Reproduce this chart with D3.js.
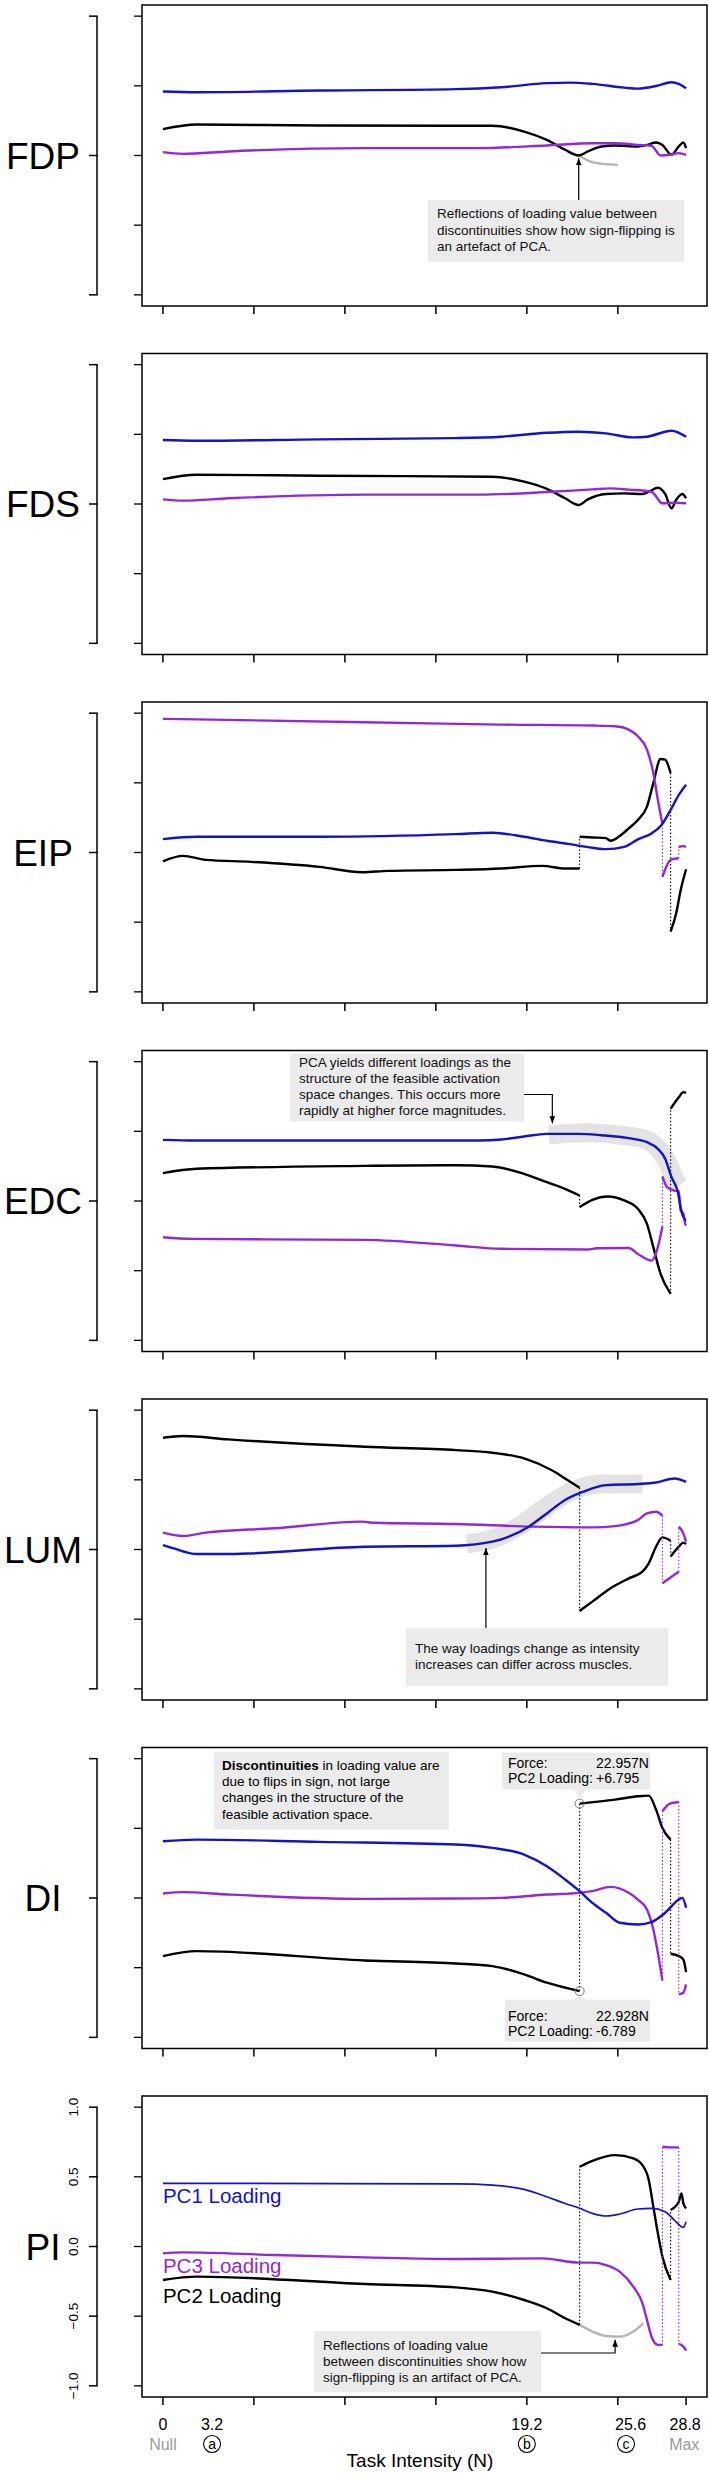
<!DOCTYPE html>
<html>
<head>
<meta charset="utf-8">
<script src="https://cdn.jsdelivr.net/npm/d3@7"></script>
<style>
body { margin: 0; background: #fff; }
svg { display: block; font-family: "Liberation Sans", Arial, sans-serif; }
</style>
</head>
<body>
<svg></svg>
<script>
// x values are positions along the intensity axis (one unit = one tick), y values are loadings

var muscles = ["FDP", "FDS", "EIP", "EDC", "LUM", "DI", "PI"];

// each series = list of continuous segments of [position, loading]
var fdpBlue = [[[0,0.459],[0.37,0.454],[1.72,0.466],[3.22,0.476],[3.72,0.49],[4.22,0.519],[4.47,0.523],[4.72,0.514],[5.07,0.487],[5.22,0.48],[5.42,0.499],[5.59,0.526],[5.67,0.514],[5.75,0.483]]];
var fdpBlack = [[[0,0.189],[0.37,0.222],[1.72,0.215],[3.62,0.213],[3.97,0.172],[4.22,0.112],[4.42,0.041],[4.57,0],[4.67,0.029],[4.82,0.065],[4.97,0.072],[5.22,0.065],[5.32,0.076],[5.42,0.093],[5.49,0.076],[5.59,0.005],[5.67,0.065],[5.72,0.093],[5.75,0.053]]];
var fdpPurple = [[[0,0.024],[0.22,0.012],[0.72,0.029],[2.22,0.053],[3.47,0.053],[4.22,0.072],[4.72,0.088],[4.97,0.088],[5.22,0.076],[5.37,0.069],[5.47,0],[5.57,0.005],[5.67,0.017],[5.75,0.005]]];
var fdpGrey = [[4.57,0],[4.72,-0.048],[4.87,-0.062],[5.0,-0.067]];

var fdsBlue = [[[0,0.459],[0.37,0.454],[1.72,0.464],[3.22,0.473],[3.72,0.483],[4.22,0.511],[4.57,0.519],[4.87,0.507],[5.17,0.478],[5.32,0.483],[5.59,0.526],[5.75,0.483]]];
var fdsBlack = [[[0,0.179],[0.37,0.21],[1.72,0.203],[3.62,0.196],[3.97,0.16],[4.22,0.108],[4.42,0.041],[4.57,-0.007],[4.67,0.033],[4.87,0.072],[5.07,0.076],[5.27,0.072],[5.34,0.088],[5.44,0.117],[5.52,0.072],[5.59,-0.031],[5.64,0.029],[5.71,0.072],[5.75,0.041]]];
var fdsPurple = [[[0,0.033],[0.22,0.024],[0.72,0.041],[2.22,0.067],[3.47,0.067],[4.22,0.086],[4.72,0.105],[4.92,0.112],[5.12,0.103],[5.37,0.088],[5.49,0.005],[5.62,0.01],[5.75,0.005]]];

var eipBlue = [[[0,0.096],[0.37,0.113],[1.72,0.113],[3.22,0.132],[3.62,0.142],[3.97,0.113],[4.22,0.084],[4.47,0.06],[4.72,0.034],[4.87,0.024],[5.07,0.041],[5.22,0.094],[5.37,0.137],[5.48,0.197],[5.57,0.293],[5.67,0.413],[5.75,0.486]]];
var eipBlack = [
  [[0,-0.063],[0.22,-0.024],[0.47,-0.053],[0.97,-0.067],[1.72,-0.103],[2.19,-0.142],[2.47,-0.132],[3.22,-0.125],[3.72,-0.115],[4.17,-0.096],[4.42,-0.115],[4.58,-0.115]],
  [[4.58,0.113],[4.72,0.108],[4.87,0.103],[4.92,0.084],[5.02,0.118],[5.12,0.173],[5.22,0.233],[5.32,0.329],[5.39,0.498],[5.47,0.671],[5.52,0.666],[5.58,0.57]],
  [[5.58,-0.567],[5.64,-0.44],[5.69,-0.272],[5.75,-0.12]]
];
var eipPurple = [
  [[0,0.959],[2.22,0.935],[3.72,0.918],[4.72,0.911],[4.97,0.906],[5.12,0.882],[5.22,0.834],[5.32,0.738],[5.39,0.57],[5.44,0.377],[5.49,0.204]],
  [[5.49,-0.175],[5.54,-0.091],[5.59,-0.05],[5.67,-0.041]],
  [[5.67,0.041],[5.72,0.046],[5.75,0.041]]
];

var edcBlue = [[[0,0.439],[0.37,0.434],[3.47,0.434],[3.72,0.441],[3.97,0.463],[4.22,0.482],[4.57,0.482],[4.82,0.472],[5.12,0.451],[5.32,0.422],[5.44,0.374],[5.52,0.303],[5.59,0.171],[5.66,0.063],[5.69,-0.044],[5.72,-0.116],[5.75,-0.14]]];
var edcBlack = [
  [[0,0.2],[0.37,0.231],[2.22,0.252],[3.22,0.257],[3.62,0.248],[3.97,0.195],[4.22,0.135],[4.42,0.087],[4.58,0.039]],
  [[4.58,-0.044],[4.72,0.008],[4.89,0.032],[5.07,0.004],[5.22,-0.056],[5.32,-0.164],[5.39,-0.331],[5.47,-0.523],[5.58,-0.666]],
  [[5.58,0.662],[5.67,0.745],[5.72,0.781],[5.75,0.776]]
];
var edcPurple = [
  [[0,-0.26],[0.32,-0.272],[2.22,-0.279],[3.22,-0.319],[3.72,-0.343],[4.67,-0.348],[4.77,-0.339],[5.12,-0.337],[5.22,-0.38],[5.37,-0.428],[5.44,-0.331],[5.49,-0.183]],
  [[5.49,0.176],[5.54,0.099],[5.62,0.075],[5.67,0.071],[5.69,-0.068],[5.72,-0.092],[5.74,-0.164],[5.75,-0.176]]
];
var edcBand = [[4.24,0.475],[4.65,0.49],[5.03,0.472],[5.31,0.44],[5.45,0.37],[5.56,0.26],[5.63,0.15],[5.67,0.11]];

var lumBlue = [[[0,0.032],[0.12,0.008],[0.37,-0.032],[0.72,-0.032],[2.22,0.02],[3.22,0.027],[3.62,0.056],[3.82,0.097],[4.02,0.164],[4.22,0.259],[4.42,0.355],[4.62,0.415],[4.87,0.462],[5.22,0.47],[5.42,0.481],[5.62,0.51],[5.75,0.486]]];
var lumBlack = [
  [[0,0.802],[0.22,0.814],[0.72,0.79],[2.22,0.737],[3.22,0.713],[3.62,0.694],[3.97,0.654],[4.27,0.57],[4.42,0.51],[4.58,0.443]],
  [[4.58,-0.441],[4.72,-0.374],[4.92,-0.278],[5.12,-0.207],[5.27,-0.159],[5.34,-0.099],[5.42,0.02],[5.49,0.087],[5.58,0.063]],
  [[5.58,-0.051],[5.67,0.02],[5.72,0.049],[5.75,0.039]]
];
var lumPurple = [
  [[0,0.121],[0.22,0.097],[0.47,0.121],[1.22,0.152],[2.19,0.2],[2.32,0.192],[3.22,0.183],[4.07,0.164],[4.72,0.159],[4.97,0.168],[5.22,0.211],[5.32,0.259],[5.42,0.271],[5.49,0.243]],
  [[5.49,-0.243],[5.59,-0.195],[5.67,-0.159]],
  [[5.67,0.164],[5.72,0.116],[5.75,0.056]]
];
var lumBand = [[3.34,0.04],[3.62,0.075],[3.92,0.17],[4.22,0.31],[4.52,0.425],[4.82,0.47],[5.27,0.47]];

var diBlue = [[[0,0.407],[0.37,0.419],[1.72,0.403],[3.22,0.384],[3.62,0.36],[3.97,0.312],[4.22,0.228],[4.42,0.133],[4.58,0.049],[4.72,-0.035],[4.87,-0.106],[5.02,-0.178],[5.22,-0.19],[5.37,-0.173],[5.52,-0.106],[5.67,-0.011],[5.71,0.001],[5.75,-0.07]]];
var diBlack = [
  [[0,-0.417],[0.37,-0.381],[2.22,-0.448],[3.22,-0.47],[3.62,-0.489],[3.97,-0.548],[4.22,-0.608],[4.58,-0.668]],
  [[4.58,0.677],[4.97,0.706],[5.22,0.73],[5.34,0.735],[5.42,0.634],[5.49,0.503],[5.58,0.419]],
  [[5.58,-0.4],[5.67,-0.417],[5.72,-0.441],[5.75,-0.532]]
];
var diPurple = [
  [[0,0.032],[0.22,0.042],[0.72,0.025],[2.22,-0.006],[3.22,-0.004],[3.72,0.001],[4.22,0.025],[4.58,0.037],[4.72,0.049],[4.92,0.08],[5.12,0.037],[5.22,-0.011],[5.32,-0.082],[5.39,-0.226],[5.44,-0.393],[5.49,-0.592]],
  [[5.49,0.622],[5.57,0.677],[5.67,0.689]],
  [[5.67,-0.692],[5.72,-0.68],[5.75,-0.62]]
];
var diMarks = [[4.58,0.677],[4.58,-0.668]];

var piBlue = [[[0,0.453],[3.22,0.45],[3.62,0.441],[3.97,0.41],[4.22,0.357],[4.42,0.309],[4.58,0.274],[4.72,0.238],[4.87,0.219],[5.02,0.233],[5.22,0.269],[5.37,0.274],[5.52,0.25],[5.62,0.19],[5.72,0.137],[5.75,0.178]]];
var piBlack = [
  [[0,-0.24],[0.37,-0.216],[2.22,-0.269],[3.22,-0.293],[3.62,-0.324],[3.97,-0.384],[4.22,-0.443],[4.42,-0.515],[4.58,-0.562]],
  [[4.58,0.572],[4.72,0.615],[4.97,0.656],[5.17,0.632],[5.27,0.584],[5.34,0.477],[5.39,0.286],[5.44,0.094],[5.49,-0.073],[5.58,-0.24]],
  [[5.58,0.262],[5.67,0.321],[5.7,0.381],[5.72,0.31],[5.75,0.274]]
];
var piPurple = [
  [[0,-0.049],[0.22,-0.042],[1.22,-0.061],[2.22,-0.078],[3.22,-0.09],[4.17,-0.085],[4.58,-0.116],[4.72,-0.116],[4.87,-0.133],[5.02,-0.18],[5.17,-0.288],[5.27,-0.407],[5.32,-0.527],[5.37,-0.646],[5.44,-0.706],[5.49,-0.706]],
  [[5.49,0.716],[5.57,0.711],[5.67,0.711]],
  [[5.67,-0.699],[5.72,-0.718],[5.75,-0.747]]
];
var piGrey = [[4.58,-0.562],[4.72,-0.61],[4.87,-0.642],[5.02,-0.647],[5.17,-0.61],[5.28,-0.551]];

var yTicks = [-1, -0.5, 0, 0.5, 1];
var yTickLabels = ["\u22121.0", "\u22120.5", "0.0", "0.5", "1.0"];
var xTicks = [0, 1, 2, 3, 4, 5];
var xLabels = ["0", "3.2", "19.2", "25.6", "28.8"];
var xLabelPos = [0, 0.54, 4, 5.14, 5.74];
var xMarks = ["Null", "a", "b", "c", "Max"];
var xMarkPos = [0, 0.54, 4, 5.09, 5.73];

var blue = "#1313c9", purple = "#9227dc";

var panels = [
  {blue: fdpBlue, black: fdpBlack, purple: fdpPurple, grey: fdpGrey},
  {blue: fdsBlue, black: fdsBlack, purple: fdsPurple},
  {blue: eipBlue, black: eipBlack, purple: eipPurple},
  {blue: edcBlue, black: edcBlack, purple: edcPurple, band: edcBand},
  {blue: lumBlue, black: lumBlack, purple: lumPurple, band: lumBand},
  {blue: diBlue, black: diBlack, purple: diPurple, marks: diMarks},
  {blue: piBlue, black: piBlack, purple: piPurple, grey: piGrey}
];

var svgWidth = 709, svgHeight = 2478;
var top0 = 5, step = 348.5, panelH = 301;
var svg = d3.select("svg").attr("width", svgWidth).attr("height", svgHeight);

svg.append("defs").append("marker")
  .attr("id", "arr").attr("viewBox", "0 0 10 10").attr("refX", 10).attr("refY", 5)
  .attr("markerWidth", 7).attr("markerHeight", 7).attr("markerUnits", "userSpaceOnUse")
  .attr("orient", "auto")
  .append("path").attr("d", "M0,1L10,5L0,9Z").attr("fill", "#000");

var x = d3.scaleLinear().domain([-0.23, 5.98]).range([142, 707]);

function addNote(g, x0, y0, w, h, lines, lineY) {
  g.append("rect").attr("x", x0).attr("y", y0).attr("width", w).attr("height", h).attr("fill", "#ebebeb");
  lines.forEach(function(t, i) {
    g.append("text").attr("x", x0 + 9).attr("y", y0 + lineY[i])
      .attr("font-size", 13.5).attr("fill", "#111").text(t);
  });
}

panels.forEach(function(p, i) {
  var top = top0 + step * i;
  var y = d3.scaleLinear().domain([-1.08, 1.08]).range([top + panelH, top]);
  var g = svg.append("g");
  var line = d3.line().x(function(d) { return x(d[0]); }).y(function(d) { return y(d[1]); })
    .curve(d3.curveMonotoneX);

  // highlight band
  if (p.band) {
    g.append("path").attr("d", line(p.band)).attr("fill", "none")
      .attr("stroke", "#e3e3e3").attr("stroke-width", 19);
  }

  // box
  g.append("rect").attr("x", 142).attr("y", top).attr("width", 565).attr("height", panelH)
    .attr("fill", "none").attr("stroke", "#000").attr("stroke-width", 1.5);

  // y ticks at box
  g.selectAll(".yt").data(yTicks).enter().append("line")
    .attr("x1", 134).attr("x2", 142)
    .attr("y1", function(d) { return y(d); }).attr("y2", function(d) { return y(d); })
    .attr("stroke", "#000").attr("stroke-width", 1.3);

  // x ticks
  var xt = i == 6 ? xTicks.concat([5.75]) : xTicks;
  g.selectAll(".xt").data(xt).enter().append("line")
    .attr("x1", function(d) { return x(d); }).attr("x2", function(d) { return x(d); })
    .attr("y1", top + panelH).attr("y2", top + panelH + 8)
    .attr("stroke", "#000").attr("stroke-width", 1.5);

  // bracket axis
  g.append("line").attr("x1", 97).attr("x2", 97).attr("y1", y(1)).attr("y2", y(-1))
    .attr("stroke", "#000").attr("stroke-width", 1.5);
  var bt = i == 6 ? yTicks : [-1, 0, 1];
  g.selectAll(".bt").data(bt).enter().append("line")
    .attr("x1", 89).attr("x2", 97.7)
    .attr("y1", function(d) { return y(d); }).attr("y2", function(d) { return y(d); })
    .attr("stroke", "#000").attr("stroke-width", 1.5);
  if (i == 6) {
    g.selectAll(".bl").data(yTicks).enter().append("text")
      .attr("transform", function(d) { return "translate(78," + y(d) + ") rotate(-90)"; })
      .attr("text-anchor", "middle").attr("font-size", 13.5)
      .text(function(d, k) { return yTickLabels[k]; });
  }

  // muscle name
  g.append("text").attr("x", 43).attr("y", y(0) + 13).attr("text-anchor", "middle")
    .attr("font-size", 37).text(muscles[i]);

  // reflection
  if (p.grey) {
    g.append("path").attr("d", line(p.grey)).attr("fill", "none")
      .attr("stroke", "#b4b4b4").attr("stroke-width", 2.4);
  }

  // series with dotted jumps between segments
  [["black", "#000"], ["purple", purple], ["blue", blue]].forEach(function(s) {
    var segs = p[s[0]];
    for (var k = 0; k < segs.length - 1; k++) {
      var a = segs[k][segs[k].length - 1], b = segs[k + 1][0];
      g.append("line").attr("x1", x(a[0])).attr("x2", x(b[0])).attr("y1", y(a[1])).attr("y2", y(b[1]))
        .attr("stroke", s[1]).attr("stroke-width", 1.1).attr("stroke-dasharray", "1.5,2");
    }
    segs.forEach(function(seg) {
      g.append("path").attr("d", line(seg)).attr("fill", "none").attr("stroke", s[1])
        .attr("stroke-width", (i == 6 && s[0] == "blue") ? 1.7 : 2.4)
        .attr("stroke-linejoin", "round");
    });
  });

  if (p.marks) {
    g.selectAll(".mk").data(p.marks).enter().append("circle")
      .attr("cx", function(d) { return x(d[0]); }).attr("cy", function(d) { return y(d[1]); })
      .attr("r", 4.5).attr("fill", "none").attr("stroke", "#777").attr("stroke-width", 1);
  }

  // annotations
  if (i == 0) {
    addNote(g, 428, top + 195, 256, 62,
      ["Reflections of loading value between", "discontinuities show how sign-flipping is", "an artefact of PCA."], [18, 35, 51]);
    g.append("line").attr("x1", x(4.57)).attr("x2", x(4.57)).attr("y1", top + 195).attr("y2", y(-0.02))
      .attr("stroke", "#000").attr("stroke-width", 1.2).attr("marker-end", "url(#arr)");
  }
  if (i == 3) {
    addNote(g, 290, top + 3, 234, 68,
      ["PCA yields different loadings as the", "structure of the feasible activation", "space changes. This occurs more", "rapidly at higher force magnitudes."], [13, 29, 45, 61]);
    g.append("path").attr("d", "M524," + (top + 44) + "H" + x(4.28) + "V" + (y(0.5) - 8))
      .attr("fill", "none").attr("stroke", "#000").attr("stroke-width", 1.2).attr("marker-end", "url(#arr)");
  }
  if (i == 4) {
    addNote(g, 406, top + 229, 262, 58,
      ["The way loadings change as intensity", "increases can differ across muscles."], [25, 41]);
    g.append("line").attr("x1", x(3.55)).attr("x2", x(3.55)).attr("y1", top + 229).attr("y2", y(0.01))
      .attr("stroke", "#000").attr("stroke-width", 1.2).attr("marker-end", "url(#arr)");
  }
  if (i == 5) {
    g.append("rect").attr("x", 214).attr("y", top + 4).attr("width", 235).attr("height", 78).attr("fill", "#ebebeb");
    var t1 = g.append("text").attr("x", 222).attr("y", top + 22).attr("font-size", 13.5);
    t1.append("tspan").attr("font-weight", "bold").text("Discontinuities");
    t1.append("tspan").text(" in loading value are");
    ["due to flips in sign, not large", "changes in the structure of the", "feasible activation space."].forEach(function(t, k) {
      g.append("text").attr("x", 222).attr("y", top + 38 + 16.5 * k).attr("font-size", 13.5).text(t);
    });
    // force callouts
    var mx = x(diMarks[0][0]);
    var up = y(diMarks[0][1]), dn = y(diMarks[1][1]);
    g.append("rect").attr("x", 502).attr("y", top + 5).attr("width", 148).attr("height", 37).attr("fill", "#ebebeb");
    g.append("path").attr("d", "M" + (mx - 6) + "," + (top + 42) + "L" + mx + "," + (up - 5) + "L" + (mx + 6) + "," + (top + 42) + "Z").attr("fill", "#ebebeb");
    g.append("rect").attr("x", 505).attr("y", top + 252).attr("width", 145).attr("height", 42).attr("fill", "#ebebeb");
    g.append("path").attr("d", "M" + (mx - 6) + "," + (top + 252) + "L" + mx + "," + (dn + 5) + "L" + (mx + 6) + "," + (top + 252) + "Z").attr("fill", "#ebebeb");
    [["Force:", "22.957N", 20], ["PC2 Loading:", "+6.795", 35], ["Force:", "22.928N", 273], ["PC2 Loading:", "-6.789", 288]].forEach(function(r) {
      g.append("text").attr("x", 508).attr("y", top + r[2]).attr("font-size", 14).text(r[0]);
      g.append("text").attr("x", 596).attr("y", top + r[2]).attr("font-size", 14).text(r[1]);
    });
  }
  if (i == 6) {
    addNote(g, 314, top + 235, 227, 61,
      ["Reflections of loading value", "between discontinuities show how", "sign-flipping is an artifact of PCA."], [19, 35, 51]);
    g.append("path").attr("d", "M541," + (top + 257) + "H" + x(4.97) + "V" + (y(-0.647) + 3))
      .attr("fill", "none").attr("stroke", "#000").attr("stroke-width", 1.2).attr("marker-end", "url(#arr)");
    // legend
    [["PC1 Loading", blue, 107], ["PC3 Loading", purple, 177], ["PC2 Loading", "#000", 207]].forEach(function(l) {
      g.append("text").attr("x", x(0)).attr("y", top + l[2]).attr("font-size", 20.5).attr("fill", l[1]).text(l[0]);
    });
  }
});

// x labels under last panel
var axTop = top0 + step * 6 + panelH;
svg.selectAll(".xl").data(xLabels).enter().append("text")
  .attr("x", function(d, k) { return x(xLabelPos[k]); }).attr("y", axTop + 33)
  .attr("text-anchor", "middle").attr("font-size", 16).text(function(d) { return d; });

xMarks.forEach(function(m, k) {
  var cx = x(xMarkPos[k]);
  if (m.length > 1) {
    svg.append("text").attr("x", cx).attr("y", axTop + 53).attr("text-anchor", "middle")
      .attr("font-size", 16).attr("fill", "#9a9a9a").text(m);
  } else {
    svg.append("circle").attr("cx", cx).attr("cy", axTop + 47).attr("r", 8.5)
      .attr("fill", "none").attr("stroke", "#000").attr("stroke-width", 1.1);
    svg.append("text").attr("x", cx).attr("y", axTop + 52).attr("text-anchor", "middle")
      .attr("font-size", 14).text(m);
  }
});

svg.append("text").attr("x", 420).attr("y", axTop + 70).attr("text-anchor", "middle")
  .attr("font-size", 19).text("Task Intensity (N)");
</script>
</body>
</html>
